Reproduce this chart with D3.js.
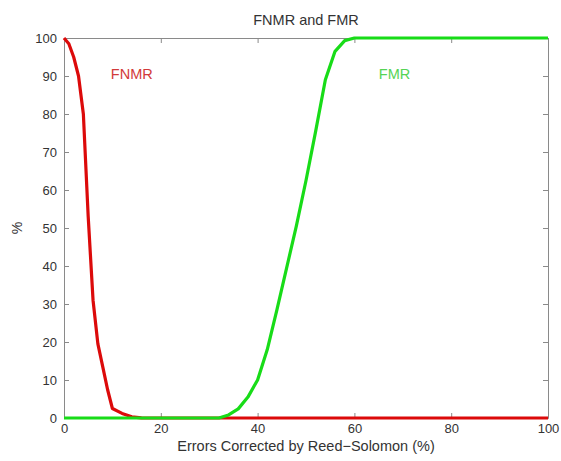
<!DOCTYPE html>
<html>
<head>
<meta charset="utf-8">
<script src="https://cdn.jsdelivr.net/npm/d3@7/dist/d3.min.js"></script>
<style>
  html, body { margin: 0; padding: 0; background: #fff; }
  text { font-family: "Liberation Sans", Arial, sans-serif; }
</style>
</head>
<body>
<script>
// ---- data ----
const fnmrX = [0, 1, 2, 3, 4, 5, 6, 7, 8, 9, 10, 12, 14, 16, 17, 100];
const fnmrY = [100, 98.5, 95, 90, 80, 53, 31, 19.5, 13.5, 7.5, 2.5, 1.2, 0.3, 0.05, 0, 0];
const fmrX = [0, 30, 32, 34, 36, 38, 40, 42, 44, 46, 48, 50, 52, 54, 56, 58, 60, 100];
const fmrY = [0, 0, 0, 0.8, 2.4, 5.5, 10, 18, 28.5, 39.5, 50.5, 62.5, 75.5, 89, 96.5, 99.3, 100, 100];
const xTicks = [0, 20, 40, 60, 80, 100];
const yTicks = [0, 10, 20, 30, 40, 50, 60, 70, 80, 90, 100];
const title = "FNMR and FMR";
const xLabel = "Errors Corrected by Reed\u2212Solomon (%)";
const yLabel = "%";

const W = 561, H = 461;
const m = { left: 64, right: 13, top: 38, bottom: 43 };
const svg = d3.select("body").append("svg").attr("width", W).attr("height", H);

const x = d3.scaleLinear().domain([0, 100]).range([m.left, W - m.right]);
const y = d3.scaleLinear().domain([0, 100]).range([H - m.bottom, m.top]);

const axisColor = "#8a8a8a", textColor = "#333";

function styleAxis(g) {
  g.selectAll("path").attr("stroke", axisColor).attr("stroke-width", 1);
  g.selectAll("line").attr("stroke", axisColor).attr("stroke-width", 1);
  g.selectAll("text").attr("fill", textColor).attr("font-size", 13)
    .attr("font-family", "Liberation Sans, Arial, sans-serif");
}

// bottom
svg.append("g").attr("transform", `translate(0,${y(0)})`)
  .call(d3.axisBottom(x).tickValues(xTicks).tickSizeInner(-5).tickSizeOuter(0).tickPadding(6))
  .call(styleAxis);
// top
svg.append("g").attr("transform", `translate(0,${y(100)})`)
  .call(d3.axisTop(x).tickValues(xTicks).tickSizeInner(-5).tickSizeOuter(0).tickFormat(""))
  .call(styleAxis);
// left
svg.append("g").attr("transform", `translate(${x(0)},0)`)
  .call(d3.axisLeft(y).tickValues(yTicks).tickSizeInner(-5).tickSizeOuter(0).tickPadding(7))
  .call(styleAxis);
// right
svg.append("g").attr("transform", `translate(${x(100)},0)`)
  .call(d3.axisRight(y).tickValues(yTicks).tickSizeInner(-5).tickSizeOuter(0).tickFormat(""))
  .call(styleAxis);

const line = d3.line().x(d => x(d[0])).y(d => y(d[1]));

svg.append("path")
  .datum(fnmrX.map((v, i) => [v, fnmrY[i]]))
  .attr("d", line).attr("fill", "none")
  .attr("stroke", "#dc0a0a").attr("stroke-width", 3.2)
  .attr("stroke-linejoin", "round");

svg.append("path")
  .datum(fmrX.map((v, i) => [v, fmrY[i]]))
  .attr("d", line).attr("fill", "none")
  .attr("stroke", "#18dc18").attr("stroke-width", 3.2)
  .attr("stroke-linejoin", "round");

// labels
svg.append("text").attr("x", x(14)).attr("y", y(89.2))
  .attr("text-anchor", "middle").attr("font-size", 14.5).attr("fill", "#d23a3a").text("FNMR");
svg.append("text").attr("x", x(68.3)).attr("y", y(89.2))
  .attr("text-anchor", "middle").attr("font-size", 14.5).attr("fill", "#55d455").text("FMR");

svg.append("text").attr("x", (x(0) + x(100)) / 2).attr("y", 25)
  .attr("text-anchor", "middle").attr("font-size", 14.5).attr("fill", textColor).text(title);
svg.append("text").attr("x", (x(0) + x(100)) / 2).attr("y", 451)
  .attr("text-anchor", "middle").attr("font-size", 14.5).attr("fill", textColor).text(xLabel);
svg.append("text").attr("transform", `translate(22,${(y(0) + y(100)) / 2}) rotate(-90)`)
  .attr("text-anchor", "middle").attr("font-size", 14).attr("fill", textColor).text(yLabel);
</script>
</body>
</html>
